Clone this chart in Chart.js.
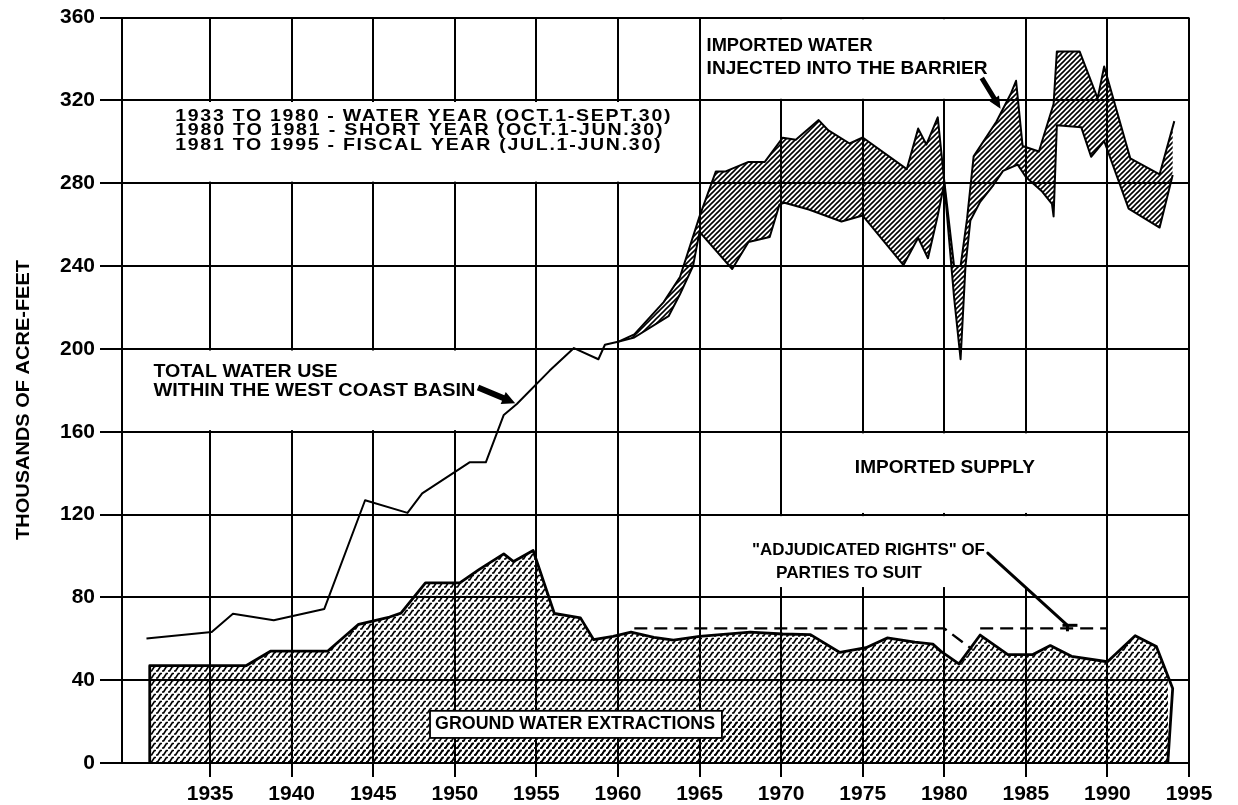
<!DOCTYPE html>
<html>
<head>
<meta charset="utf-8">
<script src="https://cdn.jsdelivr.net/npm/chart.js@4/dist/chart.umd.min.js"></script>
<style>
html,body{margin:0;padding:0;background:#fff;}
#wrap{width:1238px;height:805px;position:relative;}
</style>
</head>
<body>
<div id="wrap"><canvas id="c"></canvas></div>
<script>
// ---------------- DATA ----------------
const xTickYears = [1935, 1940, 1945, 1950, 1955, 1960, 1965, 1970, 1975, 1980, 1985, 1990, 1995];
const yTickValues = [0, 40, 80, 120, 160, 200, 240, 280, 320, 360];

// Total water use within the West Coast Basin (single line up to 1960)
const totalUseYears  = [1931.1, 1935.1, 1936.4, 1938.9, 1942.0, 1944.5, 1947.1, 1948.0, 1950.9, 1951.9, 1953.0, 1953.8, 1955.8, 1957.3, 1958.8, 1959.2, 1960.0];
const totalUseValues = [60.1, 63.3, 72.1, 68.9, 74.4, 126.9, 120.8, 130.2, 145.2, 145.2, 168.1, 173.4, 189.4, 200.4, 195.0, 202.0, 203.4];

// Imported water injected into the barrier: upper and lower edges of the band
const injTopYears  = [1960.0, 1961.0, 1962.8, 1963.8, 1965.0, 1966.0, 1966.6, 1968.0, 1969.0, 1970.1, 1970.9, 1972.3, 1972.9, 1974.2, 1975.0, 1977.7, 1978.4, 1978.9, 1979.6, 1980.0, 1980.6, 1981.0, 1981.4, 1981.8, 1983.2, 1984.1, 1984.4, 1984.8, 1985.8, 1986.7, 1986.9, 1988.3, 1989.4, 1989.8, 1991.4, 1993.2, 1994.1];
const injTopValues = [203.4, 207.0, 222.6, 234.7, 264.0, 285.7, 285.7, 290.3, 290.3, 302.0, 301.0, 310.5, 305.5, 299.2, 302.1, 286.8, 306.4, 298.7, 311.8, 281.0, 240.0, 240.0, 263.0, 293.0, 309.8, 323.6, 329.5, 298.0, 295.3, 318.3, 343.6, 343.6, 321.0, 336.4, 292.0, 284.3, 310.0];
const injBottomYears  = [1960.0, 1961.0, 1963.1, 1963.8, 1964.6, 1965.0, 1967.0, 1968.0, 1969.3, 1969.9, 1970.2, 1971.7, 1973.7, 1975.0, 1977.5, 1978.4, 1979.0, 1979.6, 1980.0, 1980.6, 1981.0, 1981.3, 1981.6, 1982.2, 1983.0, 1983.6, 1984.5, 1985.0, 1986.0, 1986.6, 1986.7, 1986.9, 1988.4, 1989.0, 1989.8, 1991.3, 1993.2, 1994.0];
const injBottomValues = [203.4, 205.5, 215.8, 226.4, 240.0, 256.5, 238.6, 251.6, 254.0, 269.8, 270.6, 267.3, 261.5, 264.4, 240.5, 253.7, 243.8, 264.4, 280.0, 225.0, 195.0, 240.0, 262.0, 271.0, 279.0, 286.0, 289.0, 283.0, 276.0, 270.0, 264.0, 308.0, 307.0, 292.8, 300.4, 267.7, 258.6, 284.0];

// Ground water extractions
const extractionYears  = [1931.3, 1931.3, 1937.2, 1938.7, 1942.2, 1944.1, 1946.0, 1946.7, 1948.2, 1950.3, 1951.5, 1953.0, 1953.6, 1954.8, 1956.1, 1957.7, 1958.5, 1959.7, 1960.8, 1962.2, 1963.4, 1965.0, 1968.1, 1970.1, 1971.8, 1973.6, 1975.2, 1976.5, 1978.2, 1979.3, 1979.8, 1980.9, 1982.2, 1983.9, 1985.4, 1986.5, 1987.8, 1990.0, 1991.7, 1993.0, 1994.0, 1993.7];
const extractionValues = [0, 47.0, 47.0, 54.0, 54.0, 67.0, 70.5, 72.4, 87.0, 87.0, 93.5, 101.0, 97.3, 102.6, 72.2, 70.1, 59.6, 61.2, 63.2, 60.7, 59.3, 61.2, 63.2, 62.3, 62.0, 53.4, 55.7, 60.4, 58.4, 57.4, 53.9, 47.9, 61.8, 52.3, 52.3, 56.7, 51.5, 48.9, 61.5, 56.3, 36.0, 0];

// "Adjudicated rights" of parties to suit
const rightsYears  = [1961.0, 1980.0, 1981.7, 1981.9, 1982.2, 1990.0];
const rightsValues = [65, 65, 55, null, 65, 65];

// ---------------- HELPERS ----------------
const FONT = '"Liberation Sans", Arial, sans-serif';
const pts = (xs, ys) => xs.map((x, i) => ({x: x, y: ys[i]}));

const canvas = document.getElementById('c');
const ctx0 = canvas.getContext('2d');

function hatchPattern() {
  const c = document.createElement('canvas'); c.width = 5; c.height = 5;
  const g = c.getContext('2d');
  g.strokeStyle = '#000'; g.lineWidth = 1.6;
  g.beginPath();
  g.moveTo(0, 5); g.lineTo(5, 0);
  g.moveTo(-1, 1); g.lineTo(1, -1);
  g.moveTo(4, 6); g.lineTo(6, 4);
  g.stroke();
  return ctx0.createPattern(c, 'repeat');
}
function zigPattern() {
  const c = document.createElement('canvas'); c.width = 6; c.height = 7;
  const g = c.getContext('2d');
  g.strokeStyle = '#000'; g.lineWidth = 1.7;
  g.beginPath();
  g.moveTo(0, 6); g.lineTo(1.6, 6); g.lineTo(4.4, 1.5); g.lineTo(6, 1.5);
  g.stroke();
  return ctx0.createPattern(c, 'repeat');
}

// Annotation layout (positions in data units, sizes in px)
const whiteBoxes = [
  {x1: 1929.6, x2: 1963.3, y1: 280, y2: 320},
  {x1: 1929.6, x2: 1954.3, y1: 160, y2: 200},
  {x1: 1965.3, x2: 1983.6, y1: 320, y2: 360},
  {x1: 1974.2, x2: 1985.8, y1: 120, y2: 160},
  {x1: 1968.0, x2: 1988.0, y1: 84.2, y2: 120}
];
const labelItems = [
  {text: '1933 TO 1980 - WATER YEAR (OCT.1-SEPT.30)', x: 1932.86, y: 312.4, w: 497, size: 17, ls: 1.5},
  {text: '1980 TO 1981 - SHORT YEAR (OCT.1-JUN.30)',  x: 1932.86, y: 305.5, w: 489, size: 17, ls: 1.5},
  {text: '1981 TO 1995 - FISCAL YEAR (JUL.1-JUN.30)', x: 1932.86, y: 298.5, w: 487, size: 17, ls: 1.5},
  {text: 'TOTAL WATER USE', x: 1931.53, y: 189.1, w: 184, size: 19, ls: 0},
  {text: 'WITHIN THE WEST COAST BASIN', x: 1931.53, y: 179.8, w: 322, size: 19, ls: 0},
  {text: 'IMPORTED WATER', x: 1965.43, y: 346.5, w: 166, size: 19, ls: 0},
  {text: 'INJECTED INTO THE BARRIER', x: 1965.43, y: 335.4, w: 281, size: 19, ls: 0},
  {text: 'IMPORTED SUPPLY', x: 1974.52, y: 142.7, w: 180, size: 19, ls: 0},
  {text: '"ADJUDICATED RIGHTS" OF', x: 1968.21, y: 102.8, w: 233, size: 17, ls: 0},
  {text: 'PARTIES TO SUIT', x: 1969.68, y: 91.6, w: 146, size: 17, ls: 0}
];
const groundBox = {x1: 1948.48, x2: 1966.37, y1: 12.1, y2: 25.2, text: 'GROUND WATER EXTRACTIONS', tx: 1948.79, ty: 18.6, w: 280, size: 18};

function fitText(ctx, text, x, y, w, size, ls) {
  ctx.save();
  ctx.font = 'bold ' + size + 'px ' + FONT;
  if ('letterSpacing' in ctx) ctx.letterSpacing = (ls || 0) + 'px';
  const m = ctx.measureText(text).width;
  ctx.translate(x, y);
  ctx.scale(w / m, 1);
  ctx.textBaseline = 'middle';
  ctx.textAlign = 'left';
  ctx.fillStyle = '#000';
  ctx.fillText(text, 0, 0);
  ctx.restore();
}
function wedgeArrow(ctx, x1, y1, x2, y2, w, headLen, headW) {
  const ang = Math.atan2(y2 - y1, x2 - x1);
  const L = Math.hypot(x2 - x1, y2 - y1);
  ctx.save();
  ctx.translate(x2, y2); ctx.rotate(ang);
  ctx.beginPath();
  ctx.moveTo(-L, -w / 2); ctx.lineTo(-headLen, -w / 2); ctx.lineTo(-headLen, -headW / 2);
  ctx.lineTo(0, 0);
  ctx.lineTo(-headLen, headW / 2); ctx.lineTo(-headLen, w / 2); ctx.lineTo(-L, w / 2);
  ctx.closePath();
  ctx.fillStyle = '#000';
  ctx.fill();
  ctx.restore();
}

const annotationPlugin = {
  id: 'annotations',
  beforeDatasetsDraw(chart) {
    const {ctx, scales: {x, y}} = chart;
    ctx.save();
    ctx.fillStyle = '#fff';
    whiteBoxes.forEach(b => {
      const l = x.getPixelForValue(b.x1) + 1.6, r = x.getPixelForValue(b.x2);
      const t = y.getPixelForValue(b.y2) + 1.6, bt = y.getPixelForValue(b.y1) - 1.6;
      ctx.fillRect(l, t, r - l, bt - t);
    });
    ctx.restore();
  },
  afterDatasetsDraw(chart) {
    const {ctx, scales: {x, y}} = chart;
    ctx.save();
    const gl = x.getPixelForValue(groundBox.x1), gr = x.getPixelForValue(groundBox.x2);
    const gt = y.getPixelForValue(groundBox.y2), gb = y.getPixelForValue(groundBox.y1);
    ctx.fillStyle = '#fff';
    ctx.fillRect(gl, gt, gr - gl, gb - gt);
    ctx.strokeStyle = '#000'; ctx.lineWidth = 1.8;
    ctx.strokeRect(gl, gt, gr - gl, gb - gt);
    ctx.restore();
    fitText(ctx, groundBox.text, x.getPixelForValue(groundBox.tx), y.getPixelForValue(groundBox.ty), groundBox.w, groundBox.size, 0);

    labelItems.forEach(it => fitText(ctx, it.text, x.getPixelForValue(it.x), y.getPixelForValue(it.y), it.w, it.size, it.ls));

    wedgeArrow(ctx, x.getPixelForValue(1951.42), y.getPixelForValue(181.4), x.getPixelForValue(1953.7), y.getPixelForValue(173.8), 6, 13, 13);
    wedgeArrow(ctx, x.getPixelForValue(1982.3), y.getPixelForValue(330.8), x.getPixelForValue(1983.45), y.getPixelForValue(316), 5, 12, 11);
    ctx.save();
    ctx.strokeStyle = '#000'; ctx.lineWidth = 3; ctx.lineCap = 'round';
    const ax1 = x.getPixelForValue(1982.67), ay1 = y.getPixelForValue(101.4);
    const ax2 = x.getPixelForValue(1987.55), ay2 = y.getPixelForValue(66.5);
    ctx.beginPath(); ctx.moveTo(ax1, ay1); ctx.lineTo(ax2, ay2); ctx.stroke();
    ctx.lineCap = 'butt';
    ctx.beginPath(); ctx.moveTo(ax2 - 5, ay2); ctx.lineTo(ax2 + 10, ay2); ctx.stroke();
    ctx.beginPath(); ctx.moveTo(ax2, ay2); ctx.lineTo(ax2, ay2 + 6); ctx.stroke();
    ctx.restore();
  },
  afterDraw(chart) {
    const {ctx} = chart;
    ctx.save();
    ctx.translate(24, 400);
    ctx.rotate(-Math.PI / 2);
    fitText(ctx, 'THOUSANDS OF ACRE-FEET', -140, 0, 280, 19, 0);
    ctx.restore();
  }
};

const tickFont = {family: FONT, size: 21, weight: 'bold'};

new Chart(canvas, {
  type: 'line',
  data: {
    datasets: [
      {label: 'Adjudicated rights of parties to suit', data: pts(rightsYears, rightsValues),
       borderColor: '#000', borderWidth: 2.4, borderDash: [13, 7], fill: false, spanGaps: false},
      {label: 'Total water use within the West Coast Basin', data: pts(totalUseYears, totalUseValues),
       borderColor: '#000', borderWidth: 2, fill: false},
      {label: 'Imported water injected into the barrier (edge 1)', data: pts(injTopYears, injTopValues),
       borderColor: '#000', borderWidth: 2, fill: '+1', backgroundColor: hatchPattern()},
      {label: 'Imported water injected into the barrier (edge 2)', data: pts(injBottomYears, injBottomValues),
       borderColor: '#000', borderWidth: 2, fill: false},
      {label: 'Ground water extractions', data: pts(extractionYears, extractionValues),
       borderColor: '#000', borderWidth: 2.8, fill: 'origin', backgroundColor: zigPattern()}
    ]
  },
  options: {
    responsive: true,
    maintainAspectRatio: false,
    animation: false,
    layout: {padding: {top: 12, right: 49, bottom: 0, left: 0}},
    plugins: {legend: {display: false}, tooltip: {enabled: false}},
    elements: {point: {radius: 0, hoverRadius: 0}, line: {tension: 0, borderJoinStyle: 'round'}},
    scales: {
      x: {
        type: 'linear', min: 1929.6, max: 1995,
        afterBuildTicks: s => { s.ticks = xTickYears.map(v => ({value: v})); },
        afterFit: s => { s.height = 42; },
        grid: {color: '#000', lineWidth: 2, tickLength: 14, tickColor: '#000', tickWidth: 2},
        border: {color: '#000', width: 2},
        ticks: {color: '#000', font: tickFont, padding: 5, maxRotation: 0, autoSkip: false, callback: v => String(v)}
      },
      y: {
        type: 'linear', min: 0, max: 360,
        afterBuildTicks: s => { s.ticks = yTickValues.map(v => ({value: v})); },
        afterFit: s => { s.width = 122; },
        grid: {color: '#000', lineWidth: 2, tickLength: 22, tickColor: '#000', tickWidth: 2},
        border: {color: '#000', width: 2},
        ticks: {color: '#000', font: tickFont, padding: 5, callback: v => String(v)}
      }
    }
  },
  plugins: [annotationPlugin]
});
</script>
</body>
</html>
